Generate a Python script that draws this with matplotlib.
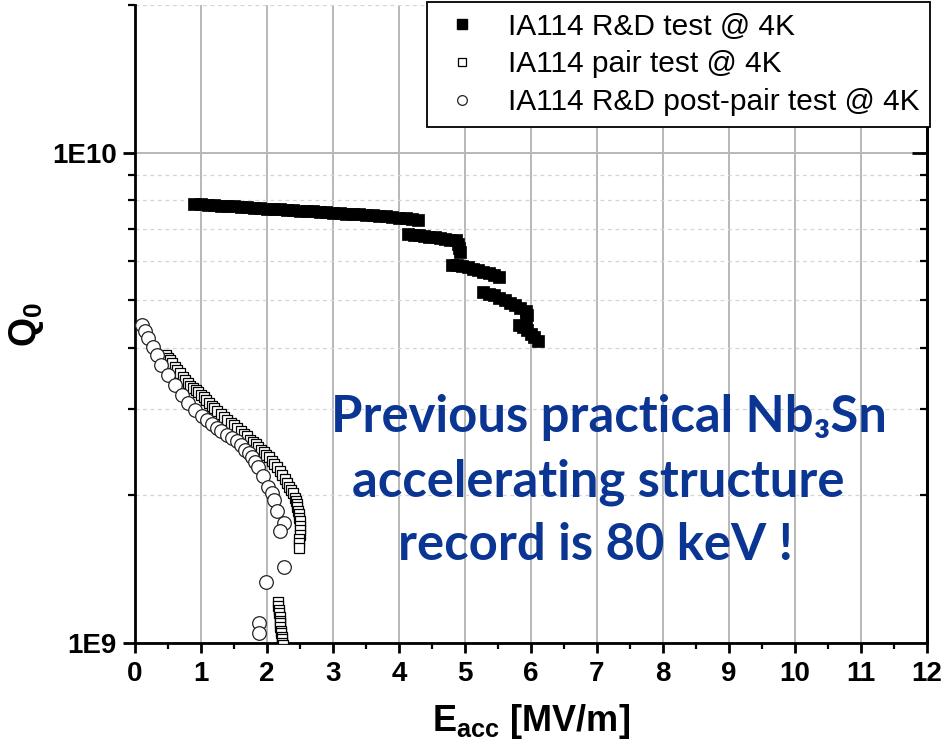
import matplotlib
matplotlib.use("Agg")
import matplotlib.pyplot as plt
from matplotlib.lines import Line2D
from matplotlib.ticker import FixedLocator, FuncFormatter, LogLocator, NullFormatter, MultipleLocator

# ---------------- data (Q values in units of 1e9) ----------------
rd_x = [0.90, 1.00, 1.10, 1.20, 1.30, 1.40, 1.50, 1.60, 1.70, 1.80, 1.90, 2.00,
        2.10, 2.20, 2.30, 2.40, 2.50, 2.60, 2.70, 2.80, 2.90, 3.00, 3.10, 3.20,
        3.30, 3.40, 3.50, 3.60, 3.70, 3.80, 3.90, 4.00, 4.10, 4.20, 4.29,
        4.14, 4.22, 4.30, 4.38, 4.46, 4.54, 4.62, 4.70, 4.78, 4.86,
        4.90, 4.91, 4.92,
        4.80, 4.88, 4.96, 5.04, 5.12, 5.20, 5.28, 5.36, 5.44, 5.52,
        5.28, 5.36, 5.44, 5.52, 5.60, 5.68, 5.76, 5.84, 5.92, 5.94, 5.93,
        5.82, 5.88, 5.94, 6.00, 6.05, 6.10]
rd_q = [7.87, 7.85, 7.83, 7.81, 7.80, 7.78, 7.77, 7.75, 7.74, 7.72, 7.70, 7.69,
        7.68, 7.66, 7.65, 7.64, 7.62, 7.61, 7.59, 7.58, 7.56, 7.54, 7.53, 7.51,
        7.50, 7.48, 7.46, 7.45, 7.43, 7.41, 7.39, 7.37, 7.35, 7.33, 7.30,
        6.82, 6.80, 6.78, 6.76, 6.74, 6.72, 6.70, 6.68, 6.65, 6.62,
        6.52, 6.40, 6.28,
        5.91, 5.89, 5.86, 5.84, 5.80, 5.75, 5.71, 5.67, 5.62, 5.58,
        5.20, 5.16, 5.12, 5.06, 5.00, 4.94, 4.88, 4.82, 4.75, 4.66, 4.57,
        4.46, 4.40, 4.34, 4.27, 4.20, 4.12]

pair_x = [0.47, 0.50, 0.53, 0.56, 0.60, 0.64, 0.68, 0.72, 0.76, 0.80, 0.84, 0.88,
          0.92, 0.96, 1.00, 1.04, 1.08, 1.12, 1.16, 1.20, 1.25, 1.30, 1.35, 1.40,
          1.45, 1.50, 1.55, 1.60, 1.65, 1.70, 1.75, 1.79, 1.83, 1.87, 1.91, 1.95,
          1.99, 2.03, 2.07, 2.11, 2.15, 2.19, 2.23, 2.27, 2.31, 2.34, 2.37, 2.40,
          2.42, 2.44, 2.45, 2.46, 2.47, 2.48, 2.49, 2.50, 2.50, 2.50, 2.50, 2.49,
          2.48, 2.48,
          2.17, 2.17, 2.18, 2.18, 2.19, 2.19, 2.20, 2.20, 2.21, 2.21, 2.22, 2.22,
          2.23, 2.24, 2.24]
pair_q = [3.86, 3.82, 3.77, 3.72, 3.66, 3.60, 3.55, 3.49, 3.44, 3.39, 3.35, 3.31,
          3.28, 3.25, 3.21, 3.17, 3.13, 3.09, 3.05, 3.01, 2.97, 2.93, 2.89, 2.85,
          2.81, 2.78, 2.74, 2.71, 2.67, 2.64, 2.60, 2.57, 2.54, 2.51, 2.48, 2.45,
          2.42, 2.39, 2.35, 2.32, 2.28, 2.24, 2.20, 2.16, 2.12, 2.08, 2.05, 2.02,
          1.98, 1.95, 1.92, 1.89, 1.86, 1.83, 1.80, 1.77, 1.73, 1.70, 1.66, 1.63,
          1.60, 1.56,
          1.21, 1.19, 1.17, 1.15, 1.13, 1.11, 1.10, 1.08, 1.06, 1.05, 1.03, 1.02,
          1.00, 0.99, 0.97]

post_x = [0.10, 0.15, 0.20, 0.27, 0.33, 0.40, 0.50, 0.61, 0.71, 0.80, 0.91, 1.01,
          1.09, 1.17, 1.24, 1.31, 1.39, 1.47, 1.54, 1.61, 1.67, 1.72, 1.77, 1.82,
          1.87, 1.94, 2.02, 2.07, 2.10, 2.15, 2.26, 2.20, 2.25, 1.98, 1.88, 1.88]
post_q = [4.46, 4.32, 4.19, 4.02, 3.87, 3.69, 3.52, 3.36, 3.21, 3.09, 2.99, 2.90,
          2.85, 2.80, 2.75, 2.71, 2.66, 2.62, 2.58, 2.53, 2.48, 2.44, 2.39, 2.34,
          2.29, 2.19, 2.08, 2.02, 1.96, 1.86, 1.76, 1.69, 1.43, 1.33, 1.10, 1.05]

labels = ["IA114 R&D test @ 4K", "IA114 pair test @ 4K", "IA114 R&D post-pair test @ 4K"]
annot_lines = ["Previous practical Nb\u2083Sn", "accelerating structure", "record is 80 keV !"]
scale = 1e9

# ---------------- fonts ----------------
plt.rcParams['font.family'] = ['Liberation Sans', 'DejaVu Sans']
plt.rcParams['mathtext.fontset'] = 'custom'
plt.rcParams['mathtext.rm'] = 'Liberation Sans:bold'
plt.rcParams['mathtext.bf'] = 'Liberation Sans:bold'

W, H = 945, 749
fig = plt.figure(figsize=(W / 100, H / 100), dpi=100)
ax = fig.add_axes([135 / W, 106 / H, (927 - 135) / W, (643 - 5) / H])

ax.set_yscale('log')
ax.set_xlim(0, 12)
ax.set_ylim(1e9, 2e10)

ax.plot(rd_x, [q * scale for q in rd_q], ls='none', marker='s', ms=8.8,
        mfc='black', mec='black', mew=0.5, zorder=3)
ax.plot(pair_x, [q * scale for q in pair_q], ls='none', marker='s', ms=6.8,
        mfc='white', mec='black', mew=0.9, zorder=3)
ax.plot(post_x, [q * scale for q in post_q], ls='none', marker='o', ms=9.8,
        mfc='white', mec='#222222', mew=0.9, zorder=4)

# grid
ax.set_axisbelow(True)
ax.grid(which='major', axis='x', color='#b8b8b8', lw=1.4)
ax.grid(which='major', axis='y', color='#b8b8b8', lw=1.4)
ax.grid(which='minor', axis='y', color='#d4d4d4', lw=0.9, ls=(0, (3, 3)))

# ticks
ax.xaxis.set_major_locator(MultipleLocator(1))
ax.xaxis.set_minor_locator(MultipleLocator(0.5))
ax.yaxis.set_major_locator(FixedLocator([1e9, 1e10]))
ax.yaxis.set_minor_locator(LogLocator(base=10, subs=range(2, 10)))
ax.yaxis.set_minor_formatter(NullFormatter())
ax.yaxis.set_major_formatter(FuncFormatter(lambda v, p: {1e9: '1E9', 1e10: '1E10'}.get(v, '')))

ax.tick_params(axis='x', which='major', direction='out', length=7, width=2,
               labelsize=20, pad=6)
ax.tick_params(axis='x', which='minor', direction='out', length=4, width=1.6)
ax.tick_params(axis='y', which='major', direction='out', length=9, width=2,
               labelsize=20, pad=4)
ax.tick_params(axis='y', which='minor', direction='out', length=5, width=1.6)
for lab in ax.get_xticklabels() + ax.get_yticklabels():
    lab.set_fontweight('bold')

for s in ['left', 'bottom', 'right']:
    ax.spines[s].set_linewidth(2)
    ax.spines[s].set_color('black')
ax.spines['top'].set_visible(False)

# right side inward ticks
ax2 = ax.twinx()
ax2.set_yscale('log')
ax2.set_ylim(ax.get_ylim())
ax2.yaxis.set_major_locator(FixedLocator([1e10]))
ax2.yaxis.set_minor_locator(LogLocator(base=10, subs=range(2, 10)))
ax2.yaxis.set_major_formatter(NullFormatter())
ax2.yaxis.set_minor_formatter(NullFormatter())
ax2.tick_params(axis='y', which='major', direction='in', length=11, width=2)
ax2.tick_params(axis='y', which='minor', direction='in', length=5, width=1.6)
for s in ['left', 'bottom', 'top']:
    ax2.spines[s].set_visible(False)
ax2.spines['right'].set_linewidth(2)

# labels
ax.set_xlabel(r'E$_{\mathbf{acc}}$ [MV/m]', fontsize=26, fontweight='bold')
ax.xaxis.set_label_coords(0.5, -0.0925)
ax.set_ylabel(r'Q$_{\mathbf{0}}$', fontsize=27, fontweight='bold')
ax.yaxis.set_label_coords(-0.112, 0.50)

# legend
handles = [
    Line2D([], [], ls='none', marker='s', ms=7, mfc='black', mec='black'),
    Line2D([], [], ls='none', marker='s', ms=6.3, mfc='white', mec='black', mew=0.9),
    Line2D([], [], ls='none', marker='o', ms=7, mfc='white', mec='#222222', mew=0.9),
]
leg = ax2.legend(handles, labels, loc='upper right', bbox_to_anchor=(1.004, 1.005),
                 borderaxespad=0, frameon=True, fancybox=False, framealpha=1,
                 edgecolor='black', handlelength=1.6, handletextpad=0.75,
                 borderpad=0.36, labelspacing=0.33,
                 prop={'family': ['Liberation Sans', 'DejaVu Sans'], 'size': 21.5})
leg.get_frame().set_linewidth(1.3)
leg.set_zorder(10)

# annotation
pos = [(609, 432), (598, 497), (595, 560)]
for txt, (xp, yp) in zip(annot_lines, pos):
    fig.text(xp / W, 1 - yp / H, txt, ha='center', va='baseline', fontsize=36.5,
             fontweight='bold', color='#0B3592', family=['Lato', 'DejaVu Sans'])

fig.savefig('out.png', dpi=100)
